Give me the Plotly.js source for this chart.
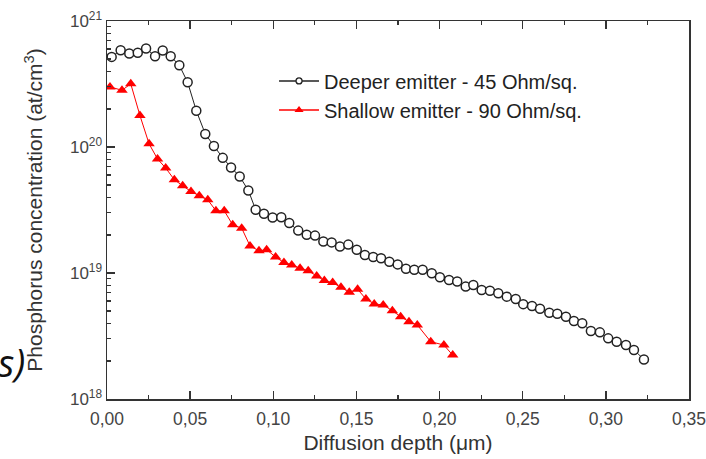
<!DOCTYPE html>
<html>
<head>
<meta charset="utf-8">
<script src="https://cdn.plot.ly/plotly-3.0.1.min.js"></script>
<style>
html,body{margin:0;padding:0;background:#fff;}
#chart{width:706px;height:459px;}
</style>
</head>
<body>
<div id="chart"></div>
<script>
// Deeper emitter - 45 Ohm/sq.
const depthDeep = [0.0028,0.0082,0.0134,0.0185,0.0235,0.0289,0.0335,0.0383,0.0435,0.0485,0.0537,0.0591,0.0643,0.0696,0.0746,0.0798,0.0850,0.0894,0.0944,0.0996,0.1048,0.1096,0.1150,0.1201,0.1251,0.1301,0.1351,0.1401,0.1451,0.1502,0.1551,0.1601,0.1648,0.1698,0.1748,0.1798,0.1848,0.1898,0.1953,0.2002,0.2057,0.2106,0.2157,0.2203,0.2253,0.2303,0.2353,0.2404,0.2458,0.2503,0.2556,0.2604,0.2660,0.2708,0.2760,0.2808,0.2858,0.2910,0.2964,0.3014,0.3065,0.3121,0.3169,0.3229];
const concDeep = [5.19e20,5.86e20,5.52e20,5.59e20,6.05e20,5.25e20,5.83e20,5.25e20,4.45e20,3.26e20,1.94e20,1.27e20,1.02e20,8.2e19,6.88e19,5.84e19,4.52e19,3.18e19,2.95e19,2.76e19,2.77e19,2.49e19,2.17e19,2.01e19,1.98e19,1.78e19,1.75e19,1.62e19,1.68e19,1.53e19,1.39e19,1.34e19,1.31e19,1.23e19,1.17e19,1.08e19,1.06e19,1.06e19,9.96e18,9.26e18,8.81e18,8.55e18,7.80e18,8.04e18,7.34e18,7.24e18,6.90e18,6.49e18,6.22e18,5.66e18,5.47e18,5.21e18,4.83e18,4.75e18,4.50e18,4.16e18,3.99e18,3.47e18,3.38e18,3.03e18,2.85e18,2.68e18,2.45e18,2.06e18];

// Shallow emitter - 90 Ohm/sq.
const depthShallow = [0.0018,0.0090,0.0143,0.0198,0.0253,0.0304,0.0353,0.0405,0.0455,0.0505,0.0555,0.0606,0.0655,0.0705,0.0756,0.0810,0.0860,0.0914,0.0960,0.1014,0.1064,0.1111,0.1161,0.1210,0.1261,0.1307,0.1357,0.1407,0.1457,0.1507,0.1557,0.1607,0.1661,0.1716,0.1766,0.1816,0.1866,0.1947,0.2026,0.2079];
const concShallow = [3.00e20,2.82e20,3.17e20,1.78e20,1.06e20,8.03e19,6.81e19,5.50e19,4.92e19,4.44e19,4.10e19,3.81e19,3.12e19,3.12e19,2.41e19,2.27e19,1.64e19,1.50e19,1.53e19,1.34e19,1.21e19,1.16e19,1.09e19,1.04e19,9.48e18,8.70e18,8.39e18,7.71e18,7.03e18,7.43e18,6.22e18,5.68e18,5.58e18,5.02e18,4.50e18,4.11e18,3.87e18,2.85e18,2.68e18,2.23e18];

const seriesNames = ['Deeper emitter - 45 Ohm/sq.', 'Shallow emitter - 90 Ohm/sq.'];

const xTickVals = [0,0.05,0.10,0.15,0.20,0.25,0.30,0.35];
const xTickText = ['0,00','0,05','0,10','0,15','0,20','0,25','0,30','0,35'];
const yTickVals = [1e18,1e19,1e20,1e21];
const yTickText = ['10<sup>18</sup>','10<sup>19</sup>','10<sup>20</sup>','10<sup>21</sup>'];

const xTitle = 'Diffusion depth (\u03bcm)';
const yTitle = 'Phosphorus concentration (at/cm<sup>3</sup>)';

const yMinor = [];
for (let e = 18; e < 21; e++) for (let m = 2; m <= 9; m++) yMinor.push(m * Math.pow(10, e));

const FONT = "'Liberation Sans', Arial, sans-serif";
const AX = '#333333';

const traces = [
  {x: depthDeep, y: concDeep, mode: 'lines+markers', showlegend: false,
   line: {color: '#222', width: 1},
   marker: {symbol: 'circle', size: 9, color: '#ffffff', line: {color: '#222', width: 1.5}}},
  {x: depthShallow, y: concShallow, mode: 'lines+markers', showlegend: false,
   line: {color: '#ff0000', width: 1},
   marker: {symbol: 'triangle-up', size: 10, color: '#ff0000', line: {width: 0}}},
  {x: [null], y: [null], mode: 'lines+markers', name: seriesNames[0],
   line: {color: '#222', width: 1.5},
   marker: {symbol: 'circle', size: 6, color: '#ffffff', line: {color: '#222', width: 1.3}}},
  {x: [null], y: [null], mode: 'lines+markers', name: seriesNames[1],
   line: {color: '#ff0000', width: 1.5},
   marker: {symbol: 'triangle-up', size: 8, color: '#ff0000', line: {width: 0}}}
];

const layout = {
  width: 706, height: 459,
  margin: {l: 107, r: 17, t: 21, b: 60},
  paper_bgcolor: '#fff', plot_bgcolor: '#fff',
  font: {family: FONT, color: '#333'},
  showlegend: true,
  legend: {x: 0.287, y: 0.893, xanchor: 'left', yanchor: 'top',
           bgcolor: 'rgba(0,0,0,0)', font: {size: 20, color: '#222', family: FONT},
           tracegroupgap: 0, itemwidth: 40},
  xaxis: {
    type: 'linear', range: [0, 0.35], autorange: false,
    tickmode: 'array', tickvals: xTickVals, ticktext: xTickText,
    ticks: 'inside', ticklen: 8, tickwidth: 1.3, tickcolor: AX,
    minor: {ticks: 'inside', ticklen: 4, tickwidth: 1.2, tickcolor: AX, dtick: 0.025, tick0: 0},
    showline: true, linecolor: AX, linewidth: 1.5, mirror: 'ticks',
    showgrid: false, zeroline: false,
    ticklabeloverflow: 'allow', ticklabelstandoff: 3,
    tickfont: {size: 17.5, color: '#444', family: FONT},
    title: {text: xTitle, font: {size: 21, color: '#333', family: FONT}, standoff: 8},
    automargin: false
  },
  yaxis: {
    type: 'log', range: [18, 21], autorange: false,
    tickmode: 'array', tickvals: yTickVals, ticktext: yTickText,
    ticks: 'inside', ticklen: 8, tickwidth: 1.3, tickcolor: AX,
    minor: {ticks: 'inside', ticklen: 4, tickwidth: 1.2, tickcolor: AX, tickmode: 'array', tickvals: yMinor},
    showline: true, linecolor: AX, linewidth: 1.5, mirror: true,
    showgrid: false, zeroline: false,
    tickfont: {size: 17, color: '#444', family: FONT},
    title: {text: yTitle, font: {size: 21, color: '#333', family: FONT}, standoff: 21},
    automargin: false
  },
  annotations: [
    {xref: 'paper', yref: 'paper', x: -0.137, y: 0.097, xanchor: 'right', yanchor: 'middle',
     text: 's)', showarrow: false,
     font: {size: 38, color: '#111', family: 'Open Sans, sans-serif', style: 'italic'}}
  ]
};

Plotly.newPlot('chart', traces, layout, {staticPlot: true, displayModeBar: false});
</script>
</body>
</html>
